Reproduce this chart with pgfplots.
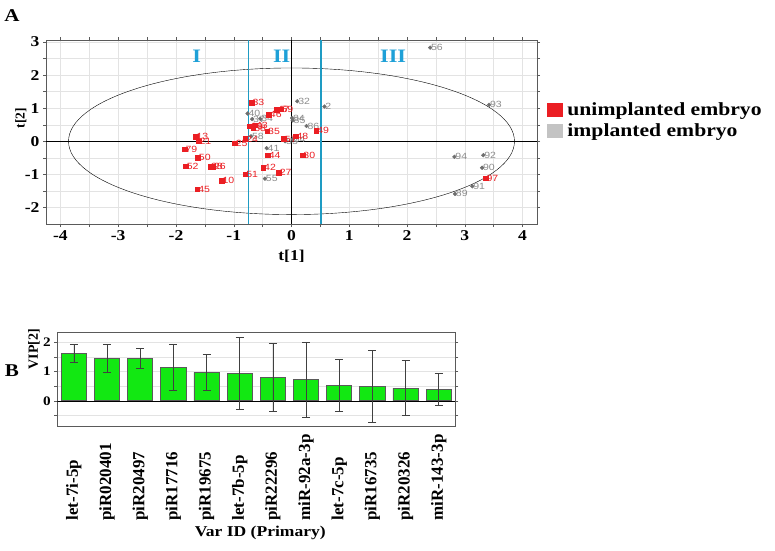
\documentclass[border=0pt]{standalone}
\usepackage{graphicx}
\usepackage{pgfplots}
\pgfplotsset{compat=1.18}
\usepackage{pgfplotstable}
\usepackage{fontspec}
\setmainfont{Liberation Serif}
\newfontfamily\bs{Liberation Serif Bold}[FakeStretch=1.17]
\newfontfamily\bsplain{Liberation Serif Bold}
\newfontfamily\labfont{Liberation Sans}[FakeStretch=1.17]
\definecolor{ured}{RGB}{235,30,35}
\definecolor{igray}{RGB}{110,110,110}
\definecolor{lgray}{RGB}{140,140,140}
\definecolor{legray}{RGB}{195,195,195}
\definecolor{tealline}{RGB}{30,155,195}
\definecolor{romcol}{RGB}{30,160,215}
\definecolor{bargreen}{RGB}{18,232,18}
\definecolor{framegray}{RGB}{90,90,90}

\pgfplotstableread{
x y l
-0.69 1.16 33
-0.26 0.95 47
-0.19 0.97 59
-0.39 0.81 46
-0.72 0.46 60
-0.66 0.40 68
-0.63 0.48 43
-0.42 0.31 35
-1.66 0.14 13
-1.61 0.00 21
-1.85 -0.24 79
-1.62 -0.50 50
-1.83 -0.75 52
-1.41 -0.76 38
-1.36 -0.76 26
-1.21 -1.19 10
-1.63 -1.45 45
-0.98 -0.06 25
-0.80 0.07 24
-0.80 -0.99 51
-0.41 -0.42 44
-0.49 -0.79 42
-0.22 -0.95 27
0.19 -0.42 30
0.07 0.15 48
0.43 0.32 49
-0.13 0.07 57
3.36 -1.11 97
}\reddata

\pgfplotstableread{
x y l
2.40 2.83 56
3.42 1.10 93
3.32 -0.42 92
2.82 -0.47 94
3.30 -0.80 90
3.13 -1.36 91
2.83 -1.59 89
0.10 1.21 32
0.57 1.05 2
0.01 0.70 84
0.02 0.63 85
0.26 0.46 86
-0.11 0.00 53
0.02 0.06 54
-0.76 0.84 40
-0.68 0.67 37
-0.54 0.68 34
-0.43 -0.21 41
-0.46 -1.13 55
-0.70 0.15 58
}\graydata

\pgfplotstableread{
x y e
0 1.62 0.31
1 1.45 0.48
2 1.44 0.35
3 1.14 0.77
4 0.97 0.61
5 0.93 1.23
6 0.80 1.16
7 0.72 1.29
8 0.52 0.88
9 0.49 1.22
10 0.43 0.94
11 0.39 0.54
}\vipdata

\begin{document}
\begin{tikzpicture}
\path[use as bounding box] (0,0) rectangle (775pt,550pt);
\node[font=\bs\fontsize{18}{19}\selectfont] at (12pt,534pt) {A};
\node[font=\bs\fontsize{18}{19}\selectfont] at (12pt,179pt) {B};

% ---------------- Panel A ----------------
\begin{axis}[
  at={(46pt,326pt)}, anchor=south west,
  scale only axis, width=491pt, height=184pt,
  xmin=-4.25, xmax=4.25, ymin=-2.5, ymax=3.06,
  xtick={-4,-3,-2,-1,0,1,2,3,4},
  ytick={-2,-1,0,1,2,3},
  minor tick num=1,
  grid=both,
  major grid style={gray!22},
  minor grid style={gray!22},
  tick align=outside,
  major tick length=3pt, minor tick length=3pt,
  tick style={framegray, thin},
  axis line style={framegray, thick},
  /pgf/number format/assume math mode=true,
  tick label style={font=\bs\fontsize{15}{16}\selectfont},
  xlabel={t[1]}, ylabel={t[2]},
  xlabel style={at={(axis description cs:0.5,-0.175)}, anchor=center, font=\bs\fontsize{15}{16}\selectfont},
  ylabel style={at={(axis description cs:-0.051,0.576)}, anchor=center, rotate=0, font=\bsplain\fontsize{13.5}{14}\selectfont},
  legend style={at={(1.02,0.565)}, anchor=west, draw=none, fill=none,
     font=\bsplain\fontsize{18.5}{19}\selectfont, row sep=3pt, inner sep=0pt,
     nodes={inner xsep=5pt}},
  legend cell align=left,
]
\draw[black, thin] (axis cs:0,-2.5) -- (axis cs:0,3.06);
\draw[black, thin] (axis cs:-4.25,0) -- (axis cs:4.25,0);
\draw[black, thin] (axis cs:0,0) ellipse [x radius=3.86, y radius=2.215];
\node[text=romcol, font=\bs\fontsize{19}{20}\selectfont] at (axis cs:-1.64,2.58) {I};
\node[text=romcol, font=\bs\fontsize{19}{20}\selectfont] at (axis cs:-0.17,2.58) {II};
\node[text=romcol, font=\bs\fontsize{19}{20}\selectfont] at (axis cs:1.76,2.58) {III};

\addplot[only marks, mark=*, mark size=1.9pt, color=igray, forget plot,
  nodes near coords, point meta=explicit symbolic,
  nodes near coords style={font=\labfont\fontsize{9}{9}\selectfont, anchor=west, inner sep=0.8pt, text=lgray}]
  table[x=x, y=y, meta=l] {\graydata};
\addplot[only marks, mark=square*, mark size=2.3pt, color=ured, forget plot,
  nodes near coords, point meta=explicit symbolic,
  nodes near coords style={font=\labfont\fontsize{9}{9}\selectfont, anchor=west, inner sep=0.8pt, text=ured}]
  table[x=x, y=y, meta=l] {\reddata};
\addplot[draw={rgb,255:red,30;green,155;blue,195}, line width=1.3pt, mark=none, forget plot]
  coordinates {(-0.745,-2.5) (-0.745,3.06)};
\addplot[draw={rgb,255:red,30;green,155;blue,195}, line width=1.3pt, mark=none, forget plot]
  coordinates {(0.51,-2.5) (0.51,3.06)};

\addlegendimage{legend image code/.code={\fill[ured] (0pt,-6.5pt) rectangle (15pt,6.5pt);}}
\addlegendentry{\scalebox{1.17}[1]{unimplanted embryo}}
\addlegendimage{legend image code/.code={\fill[legray] (0pt,-6.5pt) rectangle (15pt,6.5pt);}}
\addlegendentry{\scalebox{1.17}[1]{implanted embryo}}
\end{axis}

% ---------------- Panel B ----------------
\begin{axis}[
  at={(57.3pt,124pt)}, anchor=south west,
  scale only axis, width=398pt, height=93.3pt,
  xmin=-0.5, xmax=11.5, ymin=-0.86, ymax=2.32,
  xtick={0,1,2,3,4,5,6,7,8,9,10,11},
  xticklabels={let-7i-5p,piR020401,piR20497,piR17716,piR19675,let-7b-5p,piR22296,miR-92a-3p,let-7c-5p,piR16735,piR20326,miR-143-3p},
  xticklabel style={rotate=90, anchor=west, font=\bsplain\fontsize{17}{18}\selectfont},
  xticklabel shift=95pt,
  major x tick style={draw=none},
  ytick={0,1,2},
  minor ytick={-0.5,0.5,1.5},
  ymajorgrids, yminorgrids,
  major grid style={gray!22},
  minor grid style={gray!22},
  tick align=outside,
  major tick length=3pt, minor tick length=3pt,
  tick style={framegray, thin},
  axis line style={framegray, thick},
  /pgf/number format/assume math mode=true,
  yticklabel style={font=\bs\fontsize{13}{14}\selectfont},
  xlabel={Var ID (Primary)}, ylabel={VIP[2]},
  xlabel style={at={(axis description cs:0.51,-1.147)}, anchor=center, font=\bs\fontsize{15}{16}\selectfont},
  ylabel style={at={(axis description cs:-0.0585,0.825)}, anchor=center, rotate=0, font=\bsplain\fontsize{14}{15}\selectfont},
]
\draw[black, thin] (axis cs:-0.5,0) -- (axis cs:11.5,0);
\addplot[ybar, bar width=0.76, fill=bargreen, draw=framegray, line width=0.7pt,
  error bars/.cd, y dir=both, y explicit,
  error bar style={black!75, line width=0.6pt},
  error mark options={rotate=90, black!75, line width=0.6pt, mark size=4pt}]
  table[x=x, y=y, y error=e] {\vipdata};
\end{axis}
\end{tikzpicture}
\end{document}
